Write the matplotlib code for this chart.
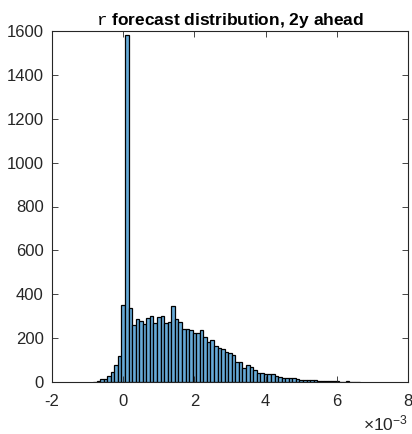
import numpy as np
import matplotlib
matplotlib.use("Agg")
import matplotlib.pyplot as plt

plt.rcParams['font.family'] = ['Liberation Sans', 'DejaVu Sans']
plt.rcParams['mathtext.fontset'] = 'custom'
plt.rcParams['mathtext.rm'] = 'Liberation Sans'
plt.rcParams['mathtext.tt'] = 'Liberation Mono'
plt.rcParams['mathtext.default'] = 'regular'

# Histogram of the 2-year-ahead forecast of r
bin_width = 1e-4
first_bin = -9          # index of the first bin (in units of bin_width)
bin_offset = 0.5e-4     # bin edges are shifted from the multiples of bin_width
counts = [
    2, 6, 12, 15, 27, 46, 78, 117, 352,
    1580,
    337, 261, 287, 280, 264, 291, 300, 268, 297, 303, 271, 273, 346, 288, 274,
    242, 241, 235, 225, 222, 235, 207, 184, 192, 165,
    153, 151, 139, 134, 123, 93, 89, 65, 79, 67, 54, 40, 43, 38, 35, 35, 26,
    24, 19, 16, 19, 17, 13, 10, 10, 7, 7, 10,
    6, 5, 4, 4, 3, 3, 2, 2, 3, 2, 1, 1,
]
x_ticks = [-2e-3, 0, 2e-3, 4e-3, 6e-3, 8e-3]
x_tick_labels = ['-2', '0', '2', '4', '6', '8']
y_ticks = list(range(0, 1601, 200))

left_edges = bin_offset + bin_width * (first_bin + np.arange(len(counts)))

W, H = 412, 434
fig = plt.figure(figsize=(W / 100, H / 100), dpi=100)
ax = fig.add_axes([52 / W, (H - 382) / H, (408 - 52) / W, (382 - 31) / H])

ax.bar(left_edges, counts, width=bin_width, align='edge',
       color=(0.4, 0.668, 0.845), edgecolor='black', linewidth=0.9)

ax.set_xlim(-2e-3, 8e-3)
ax.set_ylim(0, 1600)
ax.set_xticks(x_ticks)
ax.set_xticklabels(x_tick_labels)
ax.set_yticks(y_ticks)

for s in ax.spines.values():
    s.set_color('#262626')
    s.set_linewidth(0.8)
ax.tick_params(direction='in', top=True, right=True, length=4,
               width=0.6, colors='#262626', labelsize=12)
ax.tick_params(axis='x', pad=9)
ax.tick_params(axis='y', pad=6)

ax.set_title(r"$\mathtt{r}$ forecast distribution, 2y ahead",
             fontsize=12.5, fontweight='bold', pad=4)

fig.text(408 / W, (H - 423) / H, r"×10$^{-3}$", ha='right', va='center',
         fontsize=12.5, color='#262626')

fig.savefig("out.png", dpi=100)
